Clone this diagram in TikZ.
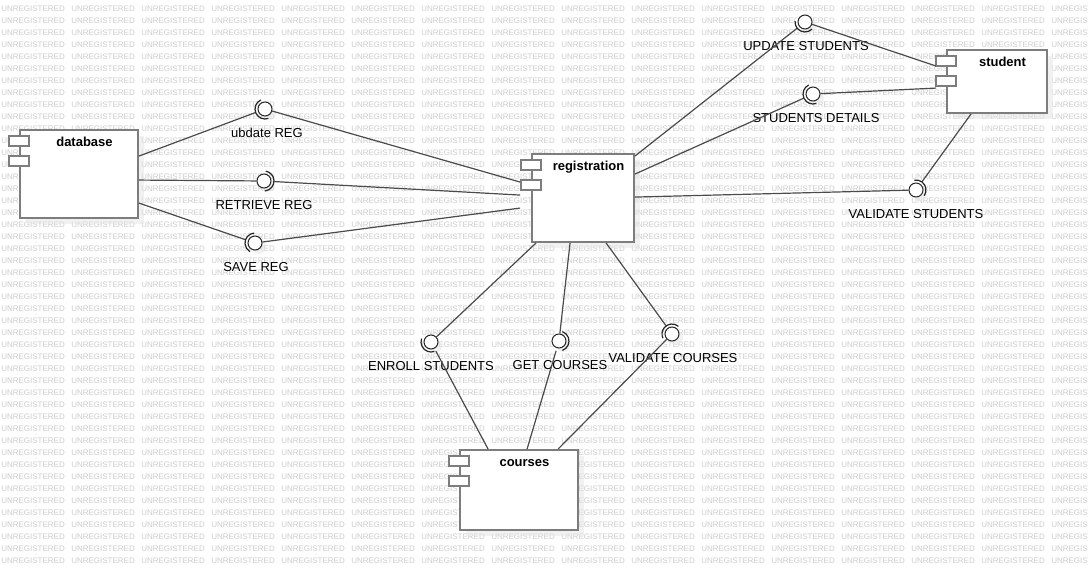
\documentclass[tikz,border=0pt]{standalone}
\usepackage{fontspec}
\setmainfont{Liberation Sans}
\usetikzlibrary{calc,shadows}
\definecolor{umlline}{RGB}{75,75,75}
\definecolor{umlbox}{RGB}{125,125,125}
\definecolor{umlmark}{RGB}{205,205,205}

% socket arc round an interface: node, start angle, end angle
\newcommand{\socket}[3]{%
  \draw[wire, draw=black!85] ($(#1)+(#2:7.5pt)$) arc[start angle=#2, end angle=#3, radius=7.5pt];}

\tikzset{
  wire/.style={draw=umlline, line width=0.9pt},
  comp/.style={rectangle, draw=umlbox, fill=white, line width=1.4pt, inner sep=0pt,
    drop shadow={shadow xshift=4.5pt, shadow yshift=-4.5pt, fill=black!10, opacity=.5}},
  boxsize/.style 2 args={minimum width=#1*0.75pt, minimum height=#2*0.75pt},
  tab/.style={draw=umlbox, fill=white, line width=1.1pt},
  cname/.style={anchor=base, inner sep=0pt, font=\bfseries\fontsize{9.75}{11}\selectfont},
  ball/.style={circle, draw=black!85, fill=white, line width=0.75pt, minimum size=10.5pt, inner sep=0pt,
    drop shadow={shadow xshift=3pt, shadow yshift=-3pt, fill=black!10, opacity=.5}},
  sock/.style={circle, minimum size=15pt, inner sep=0pt},
  iflabel/.style={anchor=base, inner sep=0pt, font=\fontsize{9.75}{11}\selectfont},
  wmark/.style={anchor=west, inner sep=0pt, text=umlmark, font=\fontsize{6}{7}\selectfont}
}

\begin{document}
\begin{tikzpicture}[x=0.75pt, y=-0.75pt]
    \clip (0,0) rectangle (1088,570);
    \fill[white] (0,0) rectangle (1088,570);

    % Watermark
    \foreach \i in {0,...,15} {
        \foreach \k in {0,...,46} {
            \node[wmark] (wm-\i-\k) at (1+70*\i, 9+12*\k) {UNREGISTERED};
        }
    }

    % Components
    \node[comp, boxsize={118}{88}] (db)  at (79,174)   {};
    \node[comp, boxsize={102}{88}] (reg) at (583,198)  {};
    \node[comp, boxsize={100}{63}] (stu) at (997,81.5) {};
    \node[comp, boxsize={118}{80}] (crs) at (519,490)  {};

    \foreach \c in {db,reg,stu,crs} {
        \draw[tab] ($(\c.north west)+(-10,7)$) rectangle ++(20,10);
        \draw[tab] ($(\c.north west)+(-10,27)$) rectangle ++(20,10);
    }

    \node[cname] (db-name)  at ($(db.north)+(5.5,17)$)  {database};
    \node[cname] (reg-name) at ($(reg.north)+(5.5,17)$) {registration};
    \node[cname] (stu-name) at ($(stu.north)+(5.5,17)$) {student};
    \node[cname] (crs-name) at ($(crs.north)+(5.5,17)$) {courses};

    % Interfaces
    \foreach \n/\x/\y in {ubd/265/109, ret/264/181, sav/255/243, ups/805/22, sdt/813/94,
                          vst/916/190, enr/431/342, gcr/559/341, vcr/672/334} {
        \node[ball] (\n) at (\x,\y) {};
        \node[sock] (\n-s) at (\x,\y) {};
    }

    \node[iflabel] (ubd-t) at ($(ubd)+(2,28.5)$) {ubdate REG};
    \node[iflabel] (ret-t) at ($(ret)+(0,28.5)$) {RETRIEVE REG};
    \node[iflabel] (sav-t) at ($(sav)+(1,28.5)$) {SAVE REG};
    \node[iflabel] (ups-t) at ($(ups)+(1,28.5)$) {UPDATE STUDENTS};
    \node[iflabel] (sdt-t) at ($(sdt)+(3,28.5)$) {STUDENTS DETAILS};
    \node[iflabel] (vst-t) at ($(vst)+(0,28.5)$) {VALIDATE STUDENTS};
    \node[iflabel] (enr-t) at ($(enr)+(0,28.5)$) {ENROLL STUDENTS};
    \node[iflabel] (gcr-t) at ($(gcr)+(1,28.5)$) {GET COURSES};
    \node[iflabel] (vcr-t) at ($(vcr)+(1,28.5)$) {VALIDATE COURSES};

    % database -- registration
    \draw[wire] ($(db.north east)+(0,27)$) -- (ubd-s);
    \draw[wire] (ubd) -- ($(reg.north west)+(-11,29)$);
    \draw[wire] ($(db.north east)+(0,51)$) -- (ret);
    \draw[wire] (ret-s) -- ($(reg.north west)+(-11,42)$);
    \draw[wire] ($(db.north east)+(0,74)$) -- (sav-s);
    \draw[wire] (sav) -- ($(reg.north west)+(-11,55)$);

    % registration -- student
    \draw[wire] ($(reg.north east)+(0,3)$) -- (ups-s);
    \draw[wire] (ups) -- ($(stu.north west)+(-10,17)$);
    \draw[wire] ($(reg.north east)+(0,21)$) -- (sdt-s);
    \draw[wire] (sdt) -- ($(stu.north west)+(-10,39)$);
    \draw[wire] ($(reg.north east)+(0,44)$) -- (vst);
    \draw[wire] (vst-s) -- ($(stu.south west)+(25,0)$);

    % registration -- courses
    \draw[wire] ($(reg.south west)+(5,0)$) -- (enr);
    \draw[wire] (enr-s) -- ($(crs.north west)+(29,0)$);
    \draw[wire] ($(reg.south west)+(39,0)$) -- (gcr);
    \draw[wire] (gcr-s) -- ($(crs.north west)+(68,0)$);
    \draw[wire] ($(reg.south west)+(75,0)$) -- (vcr-s);
    \draw[wire] (vcr) -- ($(crs.north west)+(99,0)$);

    % Sockets
    \socket{ubd}{115}{290}
    \socket{ret}{-85}{80}
    \socket{sav}{95}{240}
    \socket{ups}{175}{315}
    \socket{sdt}{115}{290}
    \socket{vst}{-35}{100}
    \socket{enr}{160}{290}
    \socket{gcr}{-70}{70}
    \socket{vcr}{50}{205}
\end{tikzpicture}
\end{document}
